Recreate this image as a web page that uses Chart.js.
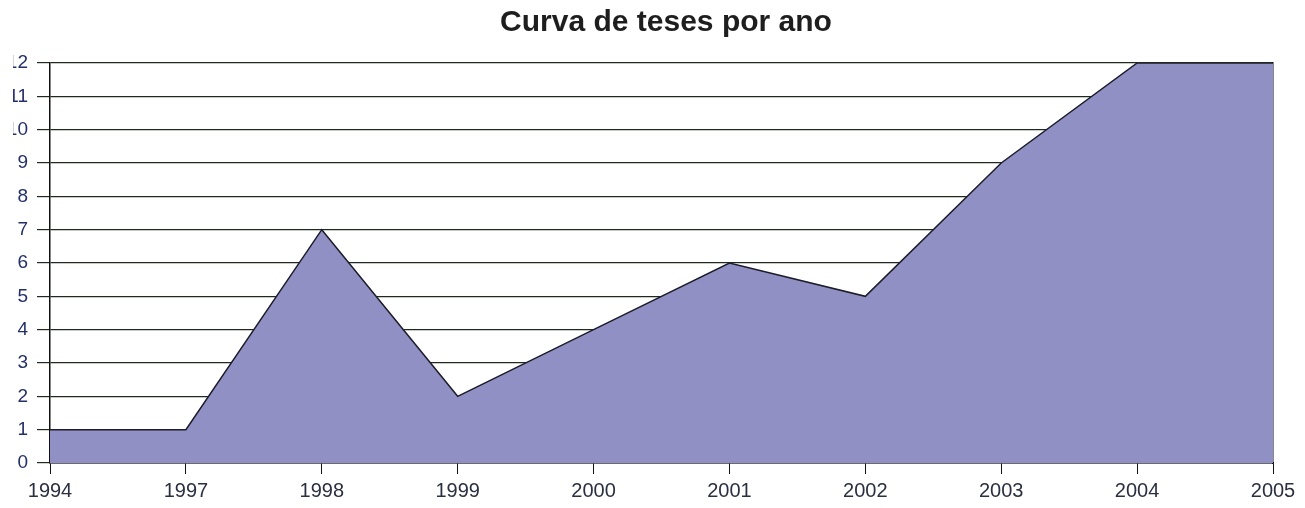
<!DOCTYPE html>
<html>
<head>
<meta charset="utf-8">
<script src="https://cdn.jsdelivr.net/npm/chart.js@4.4.0/dist/chart.umd.min.js"></script>
<style>
  html, body { margin: 0; padding: 0; background: #fff; }
  canvas { display: block; }
</style>
</head>
<body>
<canvas id="chart1" width="1305" height="508"></canvas>
<script>
var years = ['1994', '1997', '1998', '1999', '2000', '2001', '2002', '2003', '2004', '2005'];
var teses = [1, 1, 7, 2, 4, 6, 5, 9, 12, 12];
var titleText = 'Curva de teses por ano';

var fontFamily = '"Liberation Sans", Arial, sans-serif';

var ctx1 = document.getElementById('chart1').getContext('2d');
var chart1 = new Chart(ctx1, {
    type: 'line',
    data: {
        labels: years,
        datasets: [{
            label: 'Teses',
            data: teses,
            borderColor: '#1c1c2a',
            backgroundColor: 'rgb(145, 144, 197)',
            borderWidth: 1.5,
            pointRadius: 0,
            tension: 0,
            fill: 'origin'
        }]
    },
    options: {
        responsive: false,
        animation: false,
        layout: {
            // negative right padding moves the title centre right, like the original
            padding: { left: 13, right: -14, top: 0, bottom: 5 }
        },
        plugins: {
            legend: { display: false },
            tooltip: { enabled: false },
            title: {
                display: true,
                text: titleText,
                color: '#1e1e1e',
                font: { family: fontFamily, size: 30, weight: 'bold' },
                padding: { top: 5, bottom: 22 }
            }
        },
        scales: {
            x: {
                offset: false,
                afterFit: function (scale) { scale.height = 40; },
                grid: {
                    drawOnChartArea: false,
                    drawTicks: true,
                    tickLength: 11,
                    color: '#111'
                },
                border: { display: true, color: '#111', width: 1.5 },
                ticks: {
                    color: '#2b3040',
                    font: { family: fontFamily, size: 20 },
                    padding: 5,
                    maxRotation: 0,
                    autoSkip: false
                }
            },
            y: {
                min: 0,
                max: 12,
                afterFit: function (scale) { scale.width = 37; },
                grid: {
                    color: '#1f2a1f',
                    lineWidth: 1.2,
                    drawTicks: true,
                    tickLength: 13
                },
                border: { display: true, color: '#111', width: 1.5 },
                ticks: {
                    stepSize: 1,
                    color: '#24306a',
                    font: { family: fontFamily, size: 19 },
                    padding: 9
                }
            },
            yRight: {
                position: 'right',
                min: 0,
                max: 12,
                afterFit: function (scale) { scale.width = 46; },
                grid: { drawOnChartArea: false, drawTicks: false },
                border: { display: true, color: '#111', width: 1.5 },
                ticks: { display: false }
            }
        }
    }
});
</script>
</body>
</html>
